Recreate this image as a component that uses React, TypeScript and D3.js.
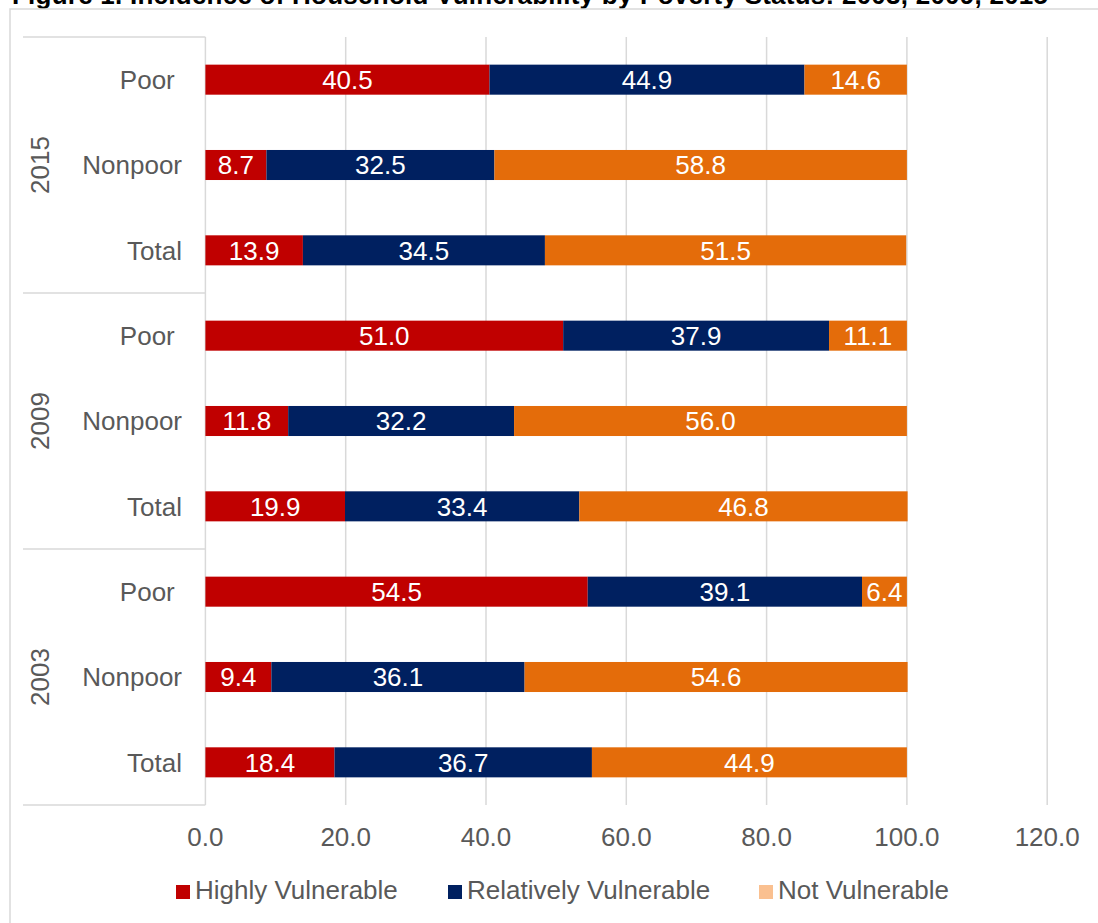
import React from "react";
import * as d3 from "d3";

const years = ["2015", "2009", "2003"];
const groups = ["Poor ", "Nonpoor", "Total"];
const highly = [40.5, 8.7, 13.9, 51.0, 11.8, 19.9, 54.5, 9.4, 18.4];
const relatively = [44.9, 32.5, 34.5, 37.9, 32.2, 33.4, 39.1, 36.1, 36.7];
const notVuln = [14.6, 58.8, 51.5, 11.1, 56.0, 46.8, 6.4, 54.6, 44.9];
const seriesNames = ["Highly Vulnerable", "Relatively Vulnerable", "Not Vulnerable"];
const xTicks = [0, 20, 40, 60, 80, 100, 120];
const title = "Figure 1. Incidence of Household Vulnerability by Poverty Status: 2003, 2009, 2015";

const barColors = ["#C00000", "#002060", "#E46C0A"];
const legendColors = ["#C00000", "#002060", "#FAC090"];
const FONT = "'Liberation Sans', Arial, sans-serif";
const TXT = "#595959";

export default function App() {
  const W = 1098, H = 923;
  const left = 205.4, top = 37, bottom = 805;
  const x = d3.scaleLinear().domain([0, 120]).range([left, left + 7.015 * 120]);
  const rows = years.flatMap((y) => groups.map((g) => `${y}|${g}`));
  const yb = d3.scaleBand().domain(rows).range([top, bottom]).paddingInner(0.648).paddingOuter(0.324);
  const step = yb.step();
  const data = rows.map((key, i) => ({ key, Highly: highly[i], Relatively: relatively[i], Not: notVuln[i] }));
  const stacked = d3.stack<any>().keys(["Highly", "Relatively", "Not"])(data);

  return (
    <svg width={W} height={H} style={{ position: "absolute", left: 0, top: 0, background: "#fff" }} fontFamily={FONT}>
      <rect x={0} y={0} width={W} height={H} fill="#fff" />
      <text x={12} y={4} fontSize={26} fontWeight="bold" fill="#000" textLength={1036} lengthAdjust="spacing">{title}</text>
      <rect x={10} y={9} width={W + 20} height={H + 20} fill="none" stroke="#d9d9d9" strokeWidth={1.5} />
      {xTicks.filter((t) => t > 0).map((t) => (
        <line key={t} x1={x(t)} x2={x(t)} y1={top} y2={bottom} stroke="#d9d9d9" strokeWidth={1.5} />
      ))}
      <line x1={left} x2={left} y1={top} y2={bottom} stroke="#d9d9d9" strokeWidth={1.5} />
      {[0, 1, 2, 3].map((i) => (
        <line key={i} x1={23} x2={left} y1={top + i * 3 * step} y2={top + i * 3 * step} stroke="#d9d9d9" strokeWidth={1.5} />
      ))}
      {stacked.map((s, si) => (
        <g key={si}>
          {s.map((d, i) => {
            const x0 = x(d[0]), x1 = x(d[1]);
            const yy = yb(rows[i])!;
            const v = d[1] - d[0];
            return (
              <g key={i}>
                <rect x={x0} y={yy} width={x1 - x0} height={yb.bandwidth()} fill={barColors[si]} />
                <text x={(x0 + x1) / 2} y={yy + yb.bandwidth() / 2} dy="0.36em" textAnchor="middle" fontSize={26} fill="#fff">{v.toFixed(1)}</text>
              </g>
            );
          })}
        </g>
      ))}
      {rows.map((r) => (
        <text key={r} x={182} y={yb(r)! + yb.bandwidth() / 2} dy="0.36em" textAnchor="end" fontSize={26} fill={TXT} style={{ whiteSpace: "pre" }}>{r.split("|")[1]}</text>
      ))}
      {years.map((yv, i) => {
        const cy = top + (i * 3 + 1.5) * step;
        return (
          <text key={yv} transform={`translate(40,${cy}) rotate(-90)`} dy="0.36em" textAnchor="middle" fontSize={26} fill={TXT}>{yv}</text>
        );
      })}
      {xTicks.map((t) => (
        <text key={t} x={x(t)} y={846} textAnchor="middle" fontSize={26} fill={TXT}>{t.toFixed(1)}</text>
      ))}
      {seriesNames.map((n, i) => {
        const lx = [176, 448, 759][i];
        return (
          <g key={n}>
            <rect x={lx} y={885} width={14} height={14} fill={legendColors[i]} />
            <text x={lx + 19} y={899} fontSize={26} fill={TXT}>{n}</text>
          </g>
        );
      })}
    </svg>
  );
}
